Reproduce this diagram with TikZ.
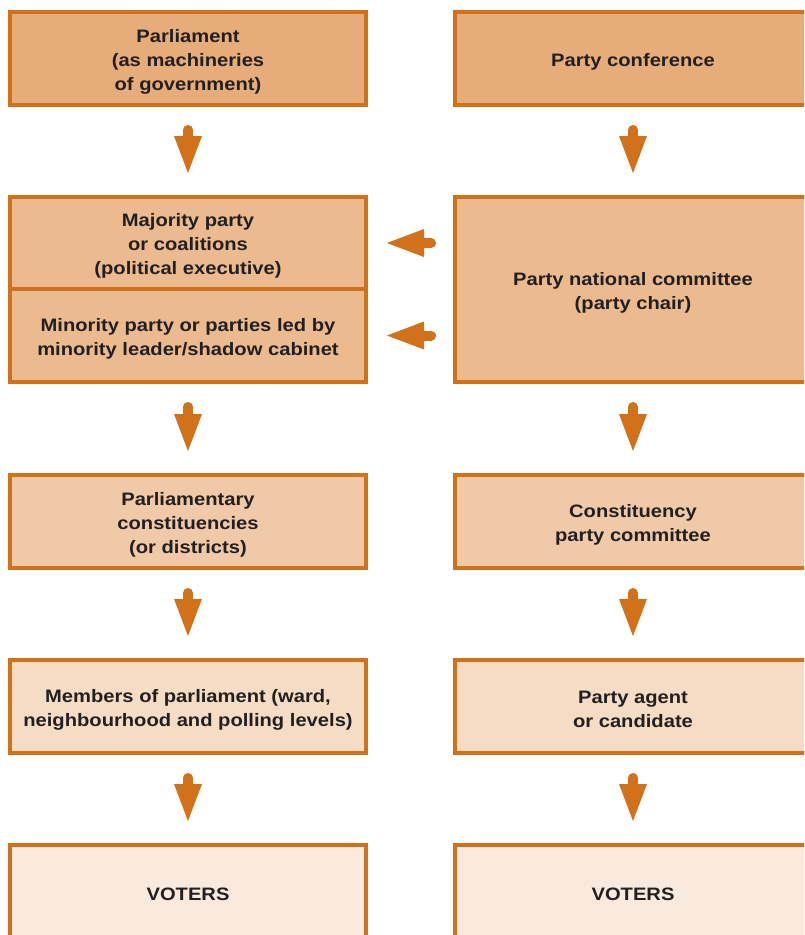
\documentclass[tikz,border=0pt]{standalone}
\usepackage{fontspec}
\setmainfont{Liberation Sans}
\newfontfamily\boxfont[FakeStretch=1.12]{Liberation Sans}
\usetikzlibrary{arrows.meta}
\definecolor{edge}{HTML}{D1711A}
\definecolor{fa}{HTML}{E6AD7B}
\definecolor{fb}{HTML}{EBBB8F}
\definecolor{fc}{HTML}{F0C9A8}
\definecolor{fd}{HTML}{F5DCC4}
\definecolor{fe}{HTML}{F9EADD}
\definecolor{txt}{HTML}{231F20}
\tikzset{
  box/.style={draw=edge, line width=4pt, rectangle, inner sep=0pt, outer sep=0pt,
    minimum width=356pt, minimum height=93pt},
  boxtext/.style={align=center, text=txt, inner sep=0pt, yshift=-3pt,
    font=\boxfont\fontsize{18}{24}\selectfont\bfseries},
  flow/.style={draw=edge, line width=10pt, line cap=round,
    -{Triangle[width=28pt,length=37pt,line width=0pt]}},
  vflow/.style={flow, shorten <=25pt, shorten >=24pt},
  hflow/.style={flow, shorten <=24pt, shorten >=21pt}
}
\begin{document}
\begin{tikzpicture}[x=1pt,y=-1pt]
\useasboundingbox (0,0) rectangle (804,935);
\clip (0,0) rectangle (804,935);
\fill[white] (0,0) rectangle (804,935);
% left column
\node[box, fill=fa, label={[boxtext]center:Parliament\\(as machineries\\of government)}] (parl) at (188,58.5) {};
\node[box, fill=fb, minimum height=92pt, label={[boxtext]center:Majority party\\or coalitions\\(political executive)}] (maj) at (188,243) {};
\node[box, fill=fb, minimum height=93pt, label={[boxtext]center:Minority party or parties led by\\minority leader/shadow cabinet}] (min) at (188,335.5) {};
\node[box, fill=fc, label={[boxtext]center:Parliamentary\\constituencies\\(or districts)}] (cons) at (188,521.5) {};
\node[box, fill=fd, label={[boxtext]center:Members of parliament (ward,\\neighbourhood and polling levels)}] (mps) at (188,706.5) {};
\node[box, fill=fe, label={[boxtext]center:VOTERS}] (vl) at (188,891.5) {};
% right column
\node[box, fill=fa, label={[boxtext]center:Party conference}] (conf) at (633,58.5) {};
\node[box, fill=fb, minimum height=185pt, label={[boxtext]center:Party national committee\\(party chair)}] (npc) at (633,289.5) {};
\node[box, fill=fc, label={[boxtext]center:Constituency\\party committee}] (cpc) at (633,521.5) {};
\node[box, fill=fd, label={[boxtext]center:Party agent\\or candidate}] (agent) at (633,706.5) {};
\node[box, fill=fe, label={[boxtext]center:VOTERS}] (vr) at (633,891.5) {};
% vertical arrows
\draw[vflow] (parl.south) -- (maj.north);
\draw[vflow] (min.south) -- (cons.north);
\draw[vflow] (cons.south) -- (mps.north);
\draw[vflow] (mps.south) -- (vl.north);
\draw[vflow] (conf.south) -- (npc.north);
\draw[vflow] (npc.south) -- (cpc.north);
\draw[vflow] (cpc.south) -- (agent.north);
\draw[vflow] (agent.south) -- (vr.north);
% horizontal arrows
\draw[hflow] (npc.west |- maj.east) -- (maj.east);
\draw[hflow] (npc.west |- min.east) -- (min.east);
\end{tikzpicture}
\end{document}
